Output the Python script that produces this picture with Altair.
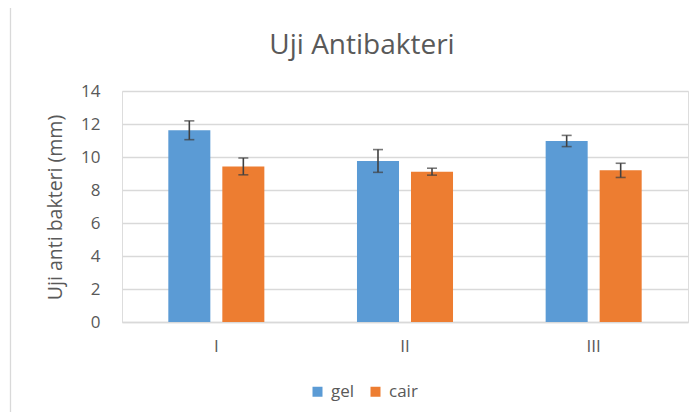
import altair as alt
import pandas as pd

categories = ["I", "II", "III"]
series = ["gel", "cair"]
gel_values = [11.62, 9.76, 10.97]
gel_errors = [0.57, 0.69, 0.34]
cair_values = [9.43, 9.11, 9.19]
cair_errors = [0.51, 0.21, 0.43]
y_ticks = [0, 2, 4, 6, 8, 10, 12, 14]
colors = ["#5B9BD5", "#ED7D31"]
title_text = "Uji Antibakteri"
y_title = "Uji anti bakteri (mm)"

rows = []
for i, c in enumerate(categories):
    rows.append({"kategori": c, "seri": "gel", "nilai": gel_values[i], "err": gel_errors[i]})
    rows.append({"kategori": c, "seri": "cair", "nilai": cair_values[i], "err": cair_errors[i]})
df = pd.DataFrame(rows)

FONT = "Open Sans"
TXT = "#595959"

x_enc = alt.X("kategori:N", sort=categories,
              scale=alt.Scale(paddingInner=0.491, paddingOuter=0.2455),
              axis=alt.Axis(title=None, labelAngle=0, ticks=False, tickSize=0,
                            labelPadding=16, labelFontSize=17, labelColor=TXT,
                            labelFont=FONT, domainColor="#D9D9D9", domainWidth=1.3,
                            grid=False))
xo_enc = alt.XOffset("seri:N", sort=series,
                     scale=alt.Scale(paddingInner=0.222, paddingOuter=0))

y_scale = alt.Scale(domain=[0, 14], nice=False)
y_axis = alt.Axis(values=y_ticks, title=y_title, ticks=False, tickSize=0,
                  domain=False, labelPadding=22, labelFontSize=17, labelOverlap=False,
                  labelColor=TXT, labelFont=FONT, gridColor="#D9D9D9",
                  gridWidth=1.3, titleFont=FONT, titleFontSize=19.5,
                  titleFontWeight="normal", titleColor=TXT,
                  titleX=-67, titleY=116, titleAngle=270,
                  titleAlign="center", titleBaseline="middle")

base = alt.Chart(df)

bars = base.mark_bar().encode(
    x=x_enc,
    xOffset=xo_enc,
    y=alt.Y("nilai:Q", scale=y_scale, axis=y_axis),
    color=alt.Color("seri:N", sort=series,
                    scale=alt.Scale(domain=series, range=colors),
                    legend=alt.Legend(title=None, orient="none", direction="horizontal",
                                      legendX=187, legendY=292, symbolType="square",
                                      symbolSize=100, symbolStrokeWidth=0,
                                      labelFontSize=17, labelColor=TXT, labelFont=FONT,
                                      labelOffset=5, columnPadding=12, padding=0)),
)

err_base = base.transform_calculate(
    lo="datum.nilai - datum.err", hi="datum.nilai + datum.err"
)

err_rule = err_base.mark_rule(color="#404040", strokeWidth=1.6).encode(
    x=x_enc, xOffset=xo_enc, y=alt.Y("lo:Q", scale=y_scale, axis=y_axis), y2="hi:Q"
)
cap_lo = err_base.mark_tick(color="#404040", thickness=1.6, size=10).encode(
    x=x_enc, xOffset=xo_enc, y=alt.Y("lo:Q", scale=y_scale, axis=y_axis)
)
cap_hi = err_base.mark_tick(color="#404040", thickness=1.6, size=10).encode(
    x=x_enc, xOffset=xo_enc, y=alt.Y("hi:Q", scale=y_scale, axis=y_axis)
)

one = pd.DataFrame({"t": [title_text]})
title = alt.Chart(one).mark_text(font=FONT, fontSize=28, color=TXT, baseline="alphabetic",
                                 align="center").encode(
    text="t:N", x=alt.value(240), y=alt.value(-37)
)
border = alt.Chart(one).mark_rect(fillOpacity=0, stroke="#D9D9D9", strokeWidth=1.3).encode(
    x=alt.value(-111.5), x2=alt.value(700), y=alt.value(-84.5), y2=alt.value(420)
)

chart = alt.layer(border, bars, err_rule, cap_lo, cap_hi, title).properties(
    width=566, height=231,
    autosize=alt.AutoSizeParams(type="none"),
    padding={"left": 114, "top": 83, "right": 4, "bottom": 90},
).configure_view(stroke=None).configure(background="white")

chart.save("out.html", embed_options={"renderer": "svg", "actions": False})
